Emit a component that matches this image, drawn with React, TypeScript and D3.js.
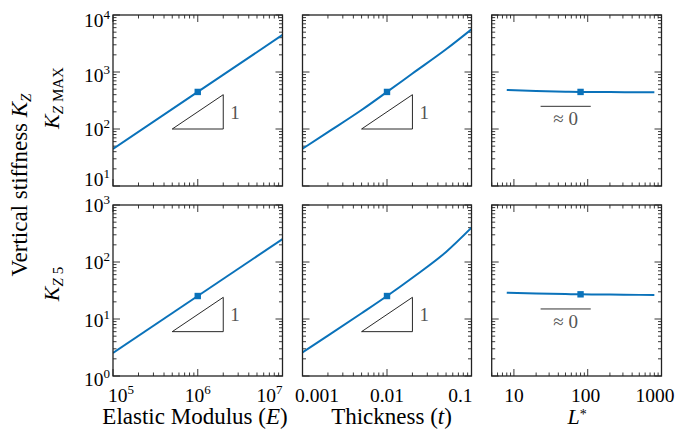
import React from "react";
import * as d3 from "d3";

// ---------- data ----------
const E_VALUES = [1e5, 1e6, 1e7];
const KZMAX_E = [44.7, 447, 4470];
const KZ5_E = [2.53, 25.3, 253];

const T_VALUES = [0.001, 0.002, 0.005, 0.01, 0.02, 0.05, 0.1];
const KZMAX_T = [45, 88, 215, 447, 940, 2500, 5600];
const KZ5_T = [2.6, 5.1, 12.6, 25.3, 53, 150, 400];

const L_VALUES = [8, 20, 50, 80, 200, 500, 800];
const KZMAX_L = [483, 465, 452, 447, 444, 442, 441];
const KZ5_L = [28.9, 28.0, 27.4, 27.1, 26.8, 26.5, 26.4];

const MARKER_E = 1e6;
const MARKER_T = 0.01;
const MARKER_L = 80;

const TRI_E = [5e5, 2e6];
const TRI_T = [0.005, 0.02];
const TRI_Y_TOP = [100, 400];
const TRI_Y_BOT = [6, 24];

const APPROX_L = [23, 110];
const APPROX_Y_TOP = 250;
const APPROX_Y_BOT = 15;

const X_DOMAINS = [[1e5, 1e7], [1e-3, 1e-1], [5, 1000]];
const Y_DOMAINS = [[10, 1e4], [1, 1e3]];

const X_TICK_LABELS = [
  [{ v: 1e5, base: "10", sup: "5" }, { v: 1e6, base: "10", sup: "6" }, { v: 1e7, base: "10", sup: "7" }],
  [{ v: 0.001, base: "0.001", sup: "" }, { v: 0.01, base: "0.01", sup: "" }, { v: 0.1, base: "0.1", sup: "" }],
  [{ v: 10, base: "10", sup: "" }, { v: 100, base: "100", sup: "" }, { v: 1000, base: "1000", sup: "" }],
];
const Y_TICK_LABELS = [
  [{ v: 10, sup: "1" }, { v: 100, sup: "2" }, { v: 1000, sup: "3" }, { v: 10000, sup: "4" }],
  [{ v: 1, sup: "0" }, { v: 10, sup: "1" }, { v: 100, sup: "2" }, { v: 1000, sup: "3" }],
];

// ---------- layout ----------
const W = 676;
const H = 436;
const COLS = [
  { x0: 113, x1: 282.5 },
  { x0: 302.5, x1: 471.5 },
  { x0: 491.7, x1: 661.5 },
];
const ROWS = [
  { y0: 15, y1: 186 },
  { y0: 205, y1: 376 },
];
// baseline offsets of y tick labels relative to their tick (per row, per label)
const Y_LABEL_DY = [
  [0, 7, 9.5, 12],
  [10, 8, 7, 7],
];
// x tick label placement (anchor, dx) per column, per label
const X_LABEL_PLACE = [
  [["start", -5], ["middle", 0], ["end", 0]],
  [["start", -7.5], ["middle", 0], ["end", 1]],
  [["middle", 0], ["middle", -2], ["end", 13]],
];
const BLUE = "#0a72ba";
const FONT = "'Liberation Serif', 'DejaVu Serif', serif";
const FRAME = "#222";

const isMajor = (v: number) => Math.abs(Math.log10(v) - Math.round(Math.log10(v))) < 1e-6;

function Panel(props: any) {
  const { col, row, xs, ys, marker, tri, triY, approx, approxY } = props;
  const { x0, x1 } = COLS[col];
  const { y0, y1 } = ROWS[row];
  const x = d3.scaleLog().domain(X_DOMAINS[col]).range([x0, x1]);
  const y = d3.scaleLog().domain(Y_DOMAINS[row]).range([y1, y0]);
  const xt = x.ticks().filter((v) => v >= X_DOMAINS[col][0] * 0.999 && v <= X_DOMAINS[col][1] * 1.001);
  const yt = y.ticks().filter((v) => v >= Y_DOMAINS[row][0] * 0.999 && v <= Y_DOMAINS[row][1] * 1.001);
  const pts: [number, number][] = xs.map((v: number, i: number) => [x(v), y(ys[i])]);
  const line = d3.line().curve(d3.curveMonotoneX)(pts) || "";
  const mi = xs.indexOf(marker);
  const mx = x(marker);
  const my = y(ys[mi]);
  const MAJ = 7;
  const MIN = 3.5;
  return (
    <g>
      <defs>
        <clipPath id={`clip-${col}-${row}`}>
          <rect x={x0} y={y0} width={x1 - x0} height={y1 - y0} />
        </clipPath>
      </defs>
      {xt.map((v, i) => {
        const L = isMajor(v) ? MAJ : MIN;
        const px = x(v);
        return (
          <g key={"xt" + i}>
            <line x1={px} x2={px} y1={y1} y2={y1 - L} stroke={FRAME} strokeWidth={0.9} />
            <line x1={px} x2={px} y1={y0} y2={y0 + L} stroke={FRAME} strokeWidth={0.9} />
          </g>
        );
      })}
      {yt.map((v, i) => {
        const L = isMajor(v) ? MAJ : MIN;
        const py = y(v);
        return (
          <g key={"yt" + i}>
            <line x1={x0} x2={x0 + L} y1={py} y2={py} stroke={FRAME} strokeWidth={0.9} />
            <line x1={x1} x2={x1 - L} y1={py} y2={py} stroke={FRAME} strokeWidth={0.9} />
          </g>
        );
      })}
      <path d={line} fill="none" stroke={BLUE} strokeWidth={2} clipPath={`url(#clip-${col}-${row})`} />
      <rect x={mx - 3.2} y={my - 3.2} width={6.4} height={6.4} fill={BLUE} />
      {tri && (
        <g>
          <path
            d={`M${x(tri[0])},${y(triY[0])}L${x(tri[1])},${y(triY[0])}L${x(tri[1])},${y(triY[1])}Z`}
            fill="none"
            stroke="#111"
            strokeWidth={0.9}
          />
          <text
            x={x(tri[1]) + 7}
            y={(y(triY[0]) + y(triY[1])) / 2 + 7}
            fontSize={19}
            fill="#555"
            fontFamily={FONT}
          >
            1
          </text>
        </g>
      )}
      {approx && (
        <g>
          <line x1={x(approx[0])} x2={x(approx[1])} y1={y(approxY)} y2={y(approxY)} stroke="#333" strokeWidth={1} />
          <text
            x={(x(approx[0]) + x(approx[1])) / 2}
            y={y(approxY) + 19}
            fontSize={19}
            fill="#555"
            textAnchor="middle"
            fontFamily={FONT}
          >
            ≈ 0
          </text>
        </g>
      )}
      <rect x={x0} y={y0} width={x1 - x0} height={y1 - y0} fill="none" stroke={FRAME} strokeWidth={1.3} />
      {row === 1 &&
        X_TICK_LABELS[col].map((t, i) => {
          const [anchor, dx] = X_LABEL_PLACE[col][i] as [string, number];
          return (
            <text
              key={"xl" + i}
              x={x(t.v) + dx}
              y={y1 + 26}
              fontSize={19.5}
              textAnchor={anchor}
              fontFamily={FONT}
            >
              {t.base}
              {t.sup && (
                <tspan fontSize={13} dy={-8}>
                  {t.sup}
                </tspan>
              )}
            </text>
          );
        })}
      {col === 0 &&
        Y_TICK_LABELS[row].map((t, i) => (
          <text
            key={"yl" + i}
            x={x0 - 3}
            y={y(t.v) + Y_LABEL_DY[row][i]}
            fontSize={19.5}
            textAnchor="end"
            fontFamily={FONT}
          >
            10
            <tspan fontSize={13} dy={-8}>
              {t.sup}
            </tspan>
          </text>
        ))}
    </g>
  );
}

export default function App() {
  return (
    <svg width={W} height={H} style={{ display: "block", position: "absolute", left: 0, top: 0 }}>
      <rect width={W} height={H} fill="#fff" />
      <Panel col={0} row={0} xs={E_VALUES} ys={KZMAX_E} marker={MARKER_E} tri={TRI_E} triY={TRI_Y_TOP} />
      <Panel col={1} row={0} xs={T_VALUES} ys={KZMAX_T} marker={MARKER_T} tri={TRI_T} triY={TRI_Y_TOP} />
      <Panel col={2} row={0} xs={L_VALUES} ys={KZMAX_L} marker={MARKER_L} approx={APPROX_L} approxY={APPROX_Y_TOP} />
      <Panel col={0} row={1} xs={E_VALUES} ys={KZ5_E} marker={MARKER_E} tri={TRI_E} triY={TRI_Y_BOT} />
      <Panel col={1} row={1} xs={T_VALUES} ys={KZ5_T} marker={MARKER_T} tri={TRI_T} triY={TRI_Y_BOT} />
      <Panel col={2} row={1} xs={L_VALUES} ys={KZ5_L} marker={MARKER_L} approx={APPROX_L} approxY={APPROX_Y_BOT} />

      <text x={195} y={424} fontSize={23} textAnchor="middle" fontFamily={FONT}>
        Elastic Modulus (<tspan fontStyle="italic">E</tspan>)
      </text>
      <text x={391.5} y={424} fontSize={23} textAnchor="middle" fontFamily={FONT}>
        Thickness (<tspan fontStyle="italic">t</tspan>)
      </text>
      <text x={577} y={424} fontSize={22} textAnchor="middle" fontFamily={FONT}>
        <tspan fontStyle="italic">L</tspan>
        <tspan fontSize={14} dy={-5}>*</tspan>
      </text>

      <text transform="translate(27,185) rotate(-90)" fontSize={23} textAnchor="middle" fontFamily={FONT}>
        Vertical stiffness <tspan fontStyle="italic">K</tspan>
        <tspan fontStyle="italic" fontSize={15} dy={4}>
          Z
        </tspan>
      </text>
      <text transform="translate(59,98) rotate(-90)" fontSize={22} textAnchor="middle" fontFamily={FONT}>
        <tspan fontStyle="italic">K</tspan>
        <tspan fontSize={15} dy={4}>
          <tspan fontStyle="italic">Z</tspan> MAX
        </tspan>
      </text>
      <text transform="translate(59,284) rotate(-90)" fontSize={22} textAnchor="middle" fontFamily={FONT}>
        <tspan fontStyle="italic">K</tspan>
        <tspan fontSize={15} dy={4}>
          <tspan fontStyle="italic">Z</tspan> 5
        </tspan>
      </text>
    </svg>
  );
}
